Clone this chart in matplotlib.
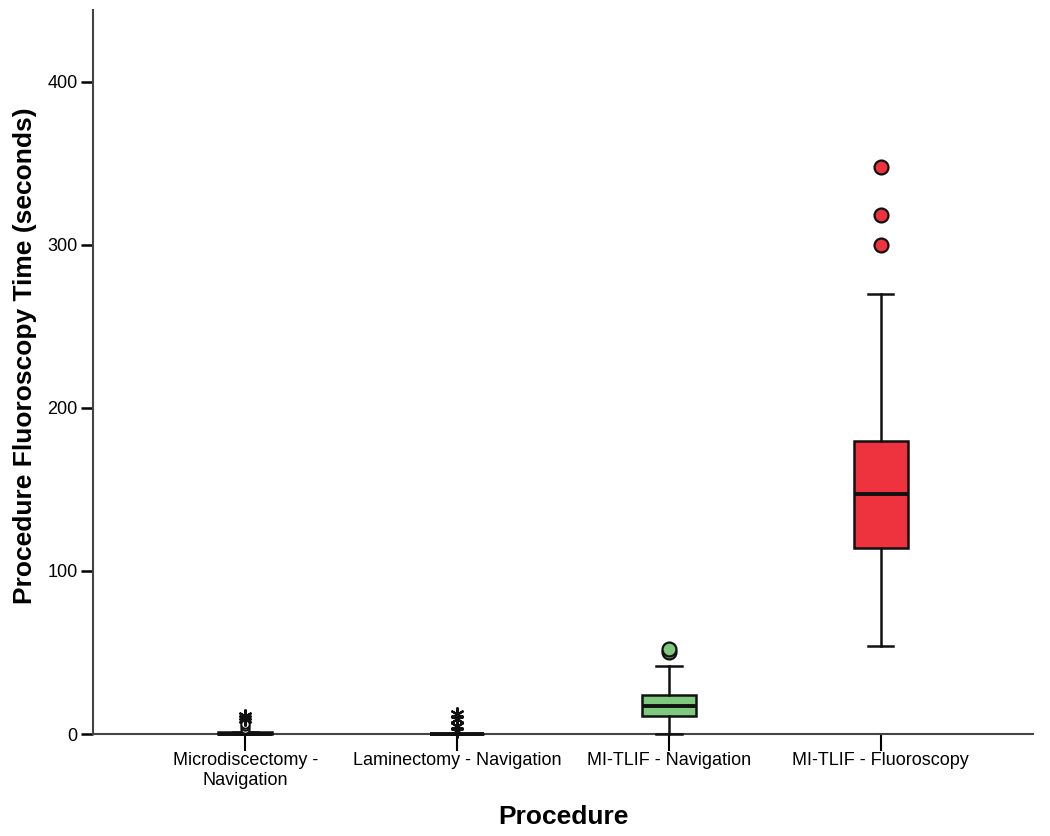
import numpy as np
import matplotlib.pyplot as plt

plt.rcParams['font.family'] = ['Liberation Sans', 'DejaVu Sans']

# box summaries (seconds)
procedures = ['Microdiscectomy -\nNavigation', 'Laminectomy - Navigation',
              'MI-TLIF - Navigation', 'MI-TLIF - Fluoroscopy']
q1 = [0, 0, 11, 114]
medians = [0, 0, 17, 147]
q3 = [1, 0, 24, 180]
whis_lo = [0, 0, 0, 54]
whis_hi = [1, 0, 42, 270]
box_colors = ['#4f6fb3', '#c9b27c', '#7fc97f', '#ee323e']

# mild outliers (circles) and extreme outliers (stars)
mild = [[3, 5, 6], [], [50, 52], [300, 318, 348]]
extreme = [[9, 11], [2, 5, 9, 12], [], []]

fig = plt.figure(figsize=(10.5, 8.36), dpi=100)
ax = fig.add_axes([0.0886, 0.122, 0.8954, 0.866])

pos = np.arange(len(procedures))
stats = []
for i in range(len(procedures)):
    stats.append({'q1': q1[i], 'med': medians[i], 'q3': q3[i],
                  'whislo': whis_lo[i], 'whishi': whis_hi[i], 'fliers': []})

res = ax.bxp(stats, positions=pos, widths=0.255, patch_artist=True,
             showfliers=False, showcaps=True,
             boxprops=dict(linewidth=1.8, edgecolor='#111111'),
             medianprops=dict(color='#111111', linewidth=2.8),
             whiskerprops=dict(color='#111111', linewidth=1.8),
             capprops=dict(color='#111111', linewidth=1.8),
             capwidths=0.12)
for patch, c in zip(res['boxes'], box_colors):
    patch.set_facecolor(c)
for artist in res['boxes'] + res['medians'] + res['whiskers'] + res['caps']:
    artist.set_clip_on(False)
    artist.set_zorder(4)

for i in range(len(procedures)):
    if mild[i]:
        # tiny groups near zero are drawn as small hollow circles
        small = max(mild[i]) < 20
        ax.plot([pos[i]] * len(mild[i]), mild[i], 'o', ms=6 if small else 10,
                mfc='white' if small else box_colors[i],
                mec='#111111', mew=1.4 if small else 1.6, zorder=5, clip_on=False)
    if extreme[i]:
        ax.plot([pos[i]] * len(extreme[i]), extreme[i], marker=(6, 2, 0), ls='none',
                ms=10, mec='#111111', mew=1.6, zorder=6, clip_on=False)

ax.set_xlim(-0.72, 3.72)
ax.set_ylim(0, 444)
ax.set_yticks([0, 100, 200, 300, 400])
ax.set_xticks(pos)
ax.set_xticklabels(procedures, fontsize=13)
ax.tick_params(axis='y', labelsize=13, length=9, width=1.8, direction='out', pad=2)
ax.tick_params(axis='x', length=12, width=1.5, direction='out', pad=1)

for side in ['top', 'right']:
    ax.spines[side].set_visible(False)
ax.spines['left'].set_linewidth(1.5)
ax.spines['bottom'].set_linewidth(1.5)
ax.spines['left'].set_color('#444444')
ax.spines['bottom'].set_color('#444444')

ax.set_xlabel('Procedure', fontsize=19, fontweight='bold', labelpad=12)
ax.set_ylabel('Procedure Fluoroscopy Time (seconds)', fontsize=19, fontweight='bold')
ax.yaxis.set_label_coords(-0.060, 0.522)

fig.savefig('out.png', dpi=100)
